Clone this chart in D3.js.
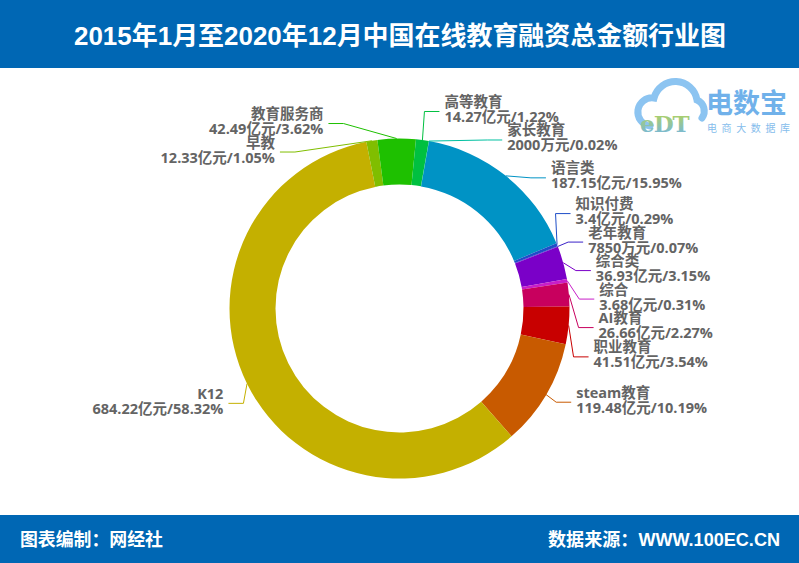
<!DOCTYPE html>
<html><head><meta charset="utf-8">
<script src="https://cdn.jsdelivr.net/npm/d3@7"></script>
<style>body{margin:0;background:#fff} svg{display:block}</style>
</head><body>
<svg id="c" width="799" height="563"></svg>
<script>
// ---- data ----
const names = ["语言类","知识付费","老年教育","综合类","综合","AI教育","职业教育","steam教育","K12","早教","教育服务商","高等教育","家长教育"];
const values = [187.15,3.4,0.785,36.93,3.68,26.66,41.51,119.48,684.22,12.33,42.49,14.27,0.2]; // 亿元
const amountLabels = ["187.15亿元","3.4亿元","7850万元","36.93亿元","3.68亿元","26.66亿元","41.51亿元","119.48亿元","684.22亿元","12.33亿元","42.49亿元","14.27亿元","2000万元"];
const percentLabels = ["15.95%","0.29%","0.07%","3.15%","0.31%","2.27%","3.54%","10.19%","58.32%","1.05%","3.62%","1.22%","0.02%"];
const colors = ["#0093c5","#1e4ec8","#3a22c8","#7a00c8","#c81ec8","#c8005e","#c80000","#c85a00","#c4b000","#80be00","#1ec000","#00c040","#00c0a0"];
const titleText = "2015年1月至2020年12月中国在线教育融资总金额行业图";
const footLeft = "图表编制：网经社";
const footRight = "数据来源：WWW.100EC.CN";

// ---- layout ----
const W = 799, H = 563;
const cx = 399.5, cy = 308.5, R = 170, R0 = 124;
const len1 = 15, len2 = 15, labelDist = 5, labelH = 28.5;
const start = 10 * Math.PI / 180;
const svg = d3.select("#c");
const blue = "#0067b4";

// header / footer
svg.append("rect").attr("x",0).attr("y",0).attr("width",W).attr("height",68).attr("fill",blue);
svg.append("text").attr("x",400).attr("y",36).attr("text-anchor","middle").attr("dominant-baseline","central")
  .attr("font-family","'Liberation Sans','Noto Sans CJK SC',sans-serif").attr("font-weight","bold").attr("font-size",26)
  .attr("fill","#fff").attr("textLength",652).attr("lengthAdjust","spacingAndGlyphs").text(titleText);
svg.append("rect").attr("x",0).attr("y",515).attr("width",W).attr("height",48).attr("fill",blue);
svg.append("text").attr("x",20).attr("y",540).attr("dominant-baseline","central")
  .attr("font-family","'Liberation Sans','Noto Sans CJK SC',sans-serif").attr("font-weight","bold").attr("font-size",18)
  .attr("fill","#fff").attr("textLength",143).attr("lengthAdjust","spacingAndGlyphs").text(footLeft);
svg.append("text").attr("x",780).attr("y",540).attr("text-anchor","end").attr("dominant-baseline","central")
  .attr("font-family","'Liberation Sans','Noto Sans CJK SC',sans-serif").attr("font-weight","bold").attr("font-size",18)
  .attr("fill","#fff").attr("textLength",232).attr("lengthAdjust","spacingAndGlyphs").text(footRight);

// logo
const defs = svg.append("defs");
const lg = defs.append("linearGradient").attr("id","eg").attr("x1",0).attr("y1",0).attr("x2",0).attr("y2",1);
lg.append("stop").attr("offset","0%").attr("stop-color","#b9d64a");
lg.append("stop").attr("offset","100%").attr("stop-color","#6fb4ec");
const logo = svg.append("g");
logo.append("path").attr("d","M650,126 A14,14 0 1 1 654,98 A22,22 0 0 1 697,100 A12,12 0 0 1 702,118")
  .attr("fill","none").attr("stroke","#8cc4f1").attr("stroke-width",7).attr("stroke-linecap","round");
logo.append("text").attr("x",640).attr("y",132).attr("font-family","'DejaVu Serif',serif").attr("font-weight","bold")
  .attr("font-size",23).attr("fill","url(#eg)").attr("letter-spacing",-1).text("eDT");
logo.append("text").attr("x",706).attr("y",113).attr("font-family","'Noto Sans CJK SC',sans-serif").attr("font-weight","bold")
  .attr("font-size",27).attr("fill","#70b1ea").text("电数宝");
logo.append("text").attr("x",707).attr("y",132).attr("font-family","'Noto Sans CJK SC',sans-serif")
  .attr("font-size",10).attr("fill","#86bdec").attr("letter-spacing",4.6).text("电商大数据库");

// pie
const pie = d3.pie().sort(null).value(d => d).startAngle(start).endAngle(start + 2 * Math.PI);
const arcs = pie(values);
const arc = d3.arc().innerRadius(R0).outerRadius(R);
const g = svg.append("g").attr("transform", `translate(${cx},${cy})`);
g.selectAll("path.slice").data(arcs).join("path").attr("class","slice")
  .attr("d", arc).attr("fill", (d,i) => colors[i]);

// label layout (outer labels with leader lines, shifted to avoid overlap)
const items = arcs.map((d,i) => {
  const a = (d.startAngle + d.endAngle) / 2;
  const dx = Math.sin(a), dy = -Math.cos(a);
  const dir = dx < 0 ? -1 : 1;
  const x1 = cx + R * dx, y1 = cy + R * dy;
  const x2 = cx + (R + len1) * dx, y2 = cy + (R + len1) * dy;
  const x3 = x2 + dir * len2;
  return {i, dir, x1, y1, x: x3 + dir * labelDist, y: y2, height: labelH};
});

function adjustSide(list, dir) {
  list.sort((a,b) => a.y - b.y);
  const n = list.length;
  function shiftUp(end, delta) {
    for (let j = end; j >= 0; j--) {
      if (list[j].y - delta < 0) break;
      list[j].y -= delta;
      if (j > 0 && list[j].y > list[j-1].y + list[j-1].height) break;
    }
  }
  function shiftDown(s, e, delta) {
    for (let j = s; j < e; j++) {
      if (list[j].y + delta > H) break;
      list[j].y += delta;
      if (j > s && j + 1 < e && list[j+1].y > list[j].y + list[j].height) { shiftUp(j, delta / 2); return; }
    }
    shiftUp(e - 1, delta / 2);
  }
  let lastY = 0;
  for (let i = 0; i < n; i++) {
    const delta = list[i].y - lastY;
    if (delta < 0) shiftDown(i, n, -delta);
    lastY = list[i].y + list[i].height;
  }
  if (H - lastY < 0) shiftUp(n - 1, lastY - H);
  const up = list.filter(d => d.y < cy), down = list.filter(d => d.y >= cy);
  function changeX(arr, isDown) {
    let last = isDown ? Number.MAX_VALUE : 0;
    arr.forEach(d => {
      const ady = Math.abs(d.y - cy);
      const rr = R + len1 + len2;
      let ddx = ady < R + len1 ? Math.sqrt(rr * rr - ady * ady) : Math.abs(d.x - cx);
      if (isDown && ddx >= last) ddx = last - 10;
      if (!isDown && ddx <= last) ddx = last + 10;
      d.x = cx + ddx * dir;
      last = ddx;
    });
  }
  changeX(up, false); changeX(down, true);
}
adjustSide(items.filter(d => d.dir > 0), 1);
adjustSide(items.filter(d => d.dir < 0), -1);

const lg2 = svg.append("g");
lg2.selectAll("polyline").data(items).join("polyline")
  .attr("points", d => {
    const p2x = d.x - d.dir * labelDist, p1x = p2x - d.dir * len2;
    return `${d.x1},${d.y1} ${p1x},${d.y} ${p2x},${d.y}`;
  })
  .attr("fill","none").attr("stroke", d => colors[d.i]).attr("stroke-width",1);

const txt = svg.append("g").selectAll("text").data(items).join("text")
  .attr("font-family","'Open Sans','Noto Sans CJK SC',sans-serif").attr("font-weight","bold").attr("font-size",14.5)
  .attr("fill","#646464").attr("text-anchor", d => d.dir > 0 ? "start" : "end");
txt.append("tspan").attr("x", d => d.x).attr("y", d => d.y - 4.5).text(d => names[d.i]);
txt.append("tspan").attr("x", d => d.x).attr("y", d => d.y + 10.5).text(d => amountLabels[d.i] + "/" + percentLabels[d.i]);
</script>
</body></html>
